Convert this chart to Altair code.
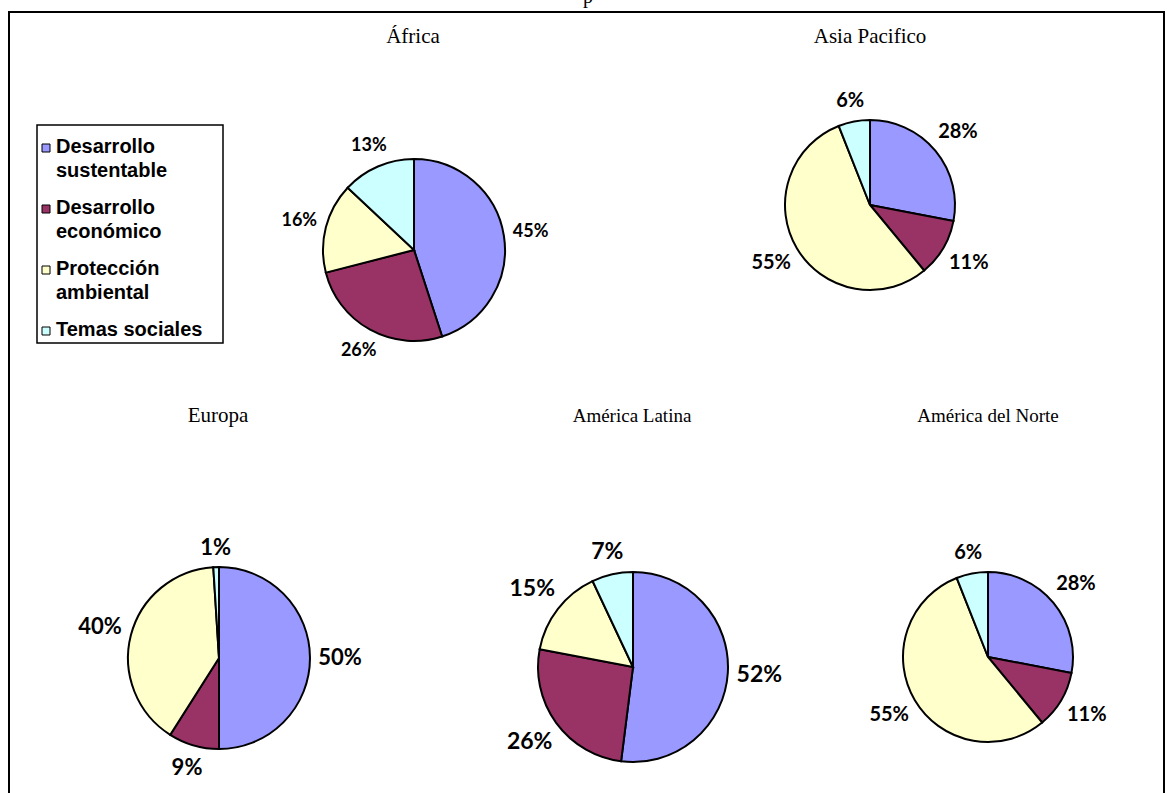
import altair as alt
import pandas as pd

# ---------------- data ----------------
regions = ["África", "Asia Pacifico", "Europa", "América Latina", "América del Norte"]
categories = ["Desarrollo sustentable", "Desarrollo económico", "Protección ambiental", "Temas sociales"]
legend_labels = ["Desarrollo\nsustentable", "Desarrollo\neconómico", "Protección\nambiental", "Temas sociales"]
colors = ["#9999FF", "#993366", "#FFFFCC", "#CCFFFF"]

values_africa = [45, 26, 16, 13]
values_asia = [28, 11, 55, 6]
values_europa = [50, 9, 40, 1]
values_latina = [52, 26, 15, 7]
values_norte = [28, 11, 55, 6]

all_values = [values_africa, values_asia, values_europa, values_latina, values_norte]

rows = []
for reg, vals in zip(regions, all_values):
    for i, (c, v) in enumerate(zip(categories, vals)):
        rows.append({"region": reg, "cat": c, "order": i, "value": v})
df = pd.DataFrame(rows)

legend_df = pd.DataFrame({"cat": categories, "label": legend_labels, "idx": list(range(len(categories)))})

# ---------------- layout (pixels) ----------------
layout = {
    "África":            dict(cx=414, cy=250, r=91, tx=413, ty=37, fs=18, tfs=21),
    "Asia Pacifico":     dict(cx=870, cy=205, r=85, tx=870, ty=37, fs=20, tfs=21),
    "Europa":            dict(cx=219, cy=658, r=91, tx=218, ty=416, fs=22, tfs=21),
    "América Latina":    dict(cx=633, cy=667, r=95, tx=632, ty=416, fs=23, tfs=19),
    "América del Norte": dict(cx=988, cy=657, r=85, tx=988, ty=416, fs=20, tfs=19),
}

color_scale = alt.Scale(domain=categories, range=colors)
LABEL_FONT = "Lato"
LEGEND_FONT = "Liberation Sans"
TITLE_FONT = "Liberation Serif"

layers = []

# outer frame
frame = alt.Chart(pd.DataFrame({"a": [0]})).mark_rect(
    fill=None, fillOpacity=0, stroke="black", strokeWidth=2
).encode(x=alt.value(9), x2=alt.value(1164), y=alt.value(12), y2=alt.value(830))
layers.append(frame)

# cut-off heading at the very top
top_p = alt.Chart(pd.DataFrame({"t": ["p"]})).mark_text(
    font=TITLE_FONT, fontSize=20, align="center", baseline="alphabetic", color="black"
).encode(x=alt.value(588), y=alt.value(3), text="t:N")
layers.append(top_p)

base = alt.Chart(df)
for reg in regions:
    L = layout[reg]
    sub = base.transform_filter(alt.datum.region == reg)
    pie = sub.mark_arc(radius=L["r"], stroke="black", strokeWidth=2).encode(
        theta=alt.Theta("value:Q", stack=True),
        order=alt.Order("order:Q"),
        color=alt.Color("cat:N", scale=color_scale, legend=None),
        x=alt.value(L["cx"]),
        y=alt.value(L["cy"]),
    )
    hw = 1.0 * L["fs"]    # half label width
    hh = 0.45 * L["fs"]   # half label height
    gap = 8
    labels = (
        sub.transform_window(cum="sum(value)", sort=[alt.SortField("order", order="ascending")], frame=[None, 0])
        .transform_joinaggregate(total="sum(value)")
        .transform_calculate(mid="(datum.cum - datum.value/2) / datum.total * 2 * PI")
        .transform_calculate(rl=f"{L['r']} + {gap} + {hw} * abs(sin(datum.mid)) + {hh} * abs(cos(datum.mid))")
        .transform_calculate(
            lx=f"{L['cx']} + datum.rl * sin(datum.mid)",
            ly=f"{L['cy']} - datum.rl * cos(datum.mid)",
            lab="datum.value + '%'",
        )
        .mark_text(font=LABEL_FONT, fontWeight="bold", fontSize=L["fs"], align="center",
                   baseline="middle", color="black")
        .encode(
            x=alt.X("lx:Q", scale=None, axis=None),
            y=alt.Y("ly:Q", scale=None, axis=None),
            text="lab:N",
        )
    )
    title = alt.Chart(pd.DataFrame({"t": [reg]})).mark_text(
        font=TITLE_FONT, fontSize=L["tfs"], align="center", baseline="middle", color="black"
    ).encode(x=alt.value(L["tx"]), y=alt.value(L["ty"]), text="t:N")
    layers += [pie, labels, title]

# legend box
legend_box = alt.Chart(pd.DataFrame({"a": [0]})).mark_rect(
    fill="white", stroke="black", strokeWidth=1.5
).encode(x=alt.value(37), x2=alt.value(223), y=alt.value(125), y2=alt.value(343))
layers.append(legend_box)

leg = alt.Chart(legend_df).transform_calculate(
    sy="148 + datum.idx * 61", ty="148 + datum.idx * 61 - 11"
)
leg_sq = leg.mark_square(size=64, stroke="black", strokeWidth=1, opacity=1).encode(
    x=alt.value(46),
    y=alt.Y("sy:Q", scale=None, axis=None),
    color=alt.Color("cat:N", scale=color_scale, legend=None),
)
leg_txt = leg.mark_text(
    font=LEGEND_FONT, fontWeight="bold", fontSize=20, align="left", baseline="top",
    lineBreak="\n", lineHeight=24, color="black"
).encode(
    x=alt.value(56),
    y=alt.Y("ty:Q", scale=None, axis=None),
    text="label:N",
)
layers += [leg_sq, leg_txt]

chart = alt.layer(*layers).properties(
    width=1173, height=793, padding=0, autosize="none", background="white"
).configure_view(stroke=None)

chart.save("out.html", embed_options={"renderer": "svg", "actions": False})
